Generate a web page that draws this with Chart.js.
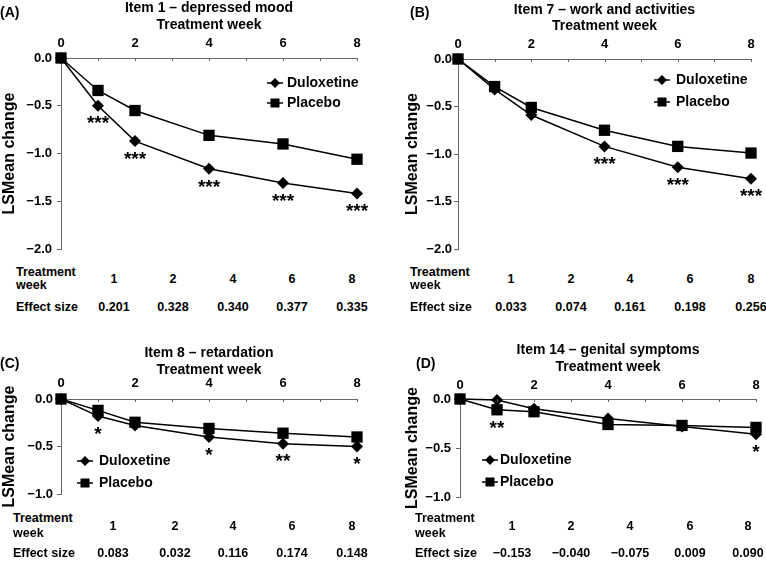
<!DOCTYPE html>
<html>
<head>
<meta charset="utf-8">
<script src="https://cdn.jsdelivr.net/npm/chart.js@4.4.1/dist/chart.umd.min.js"></script>
<style>
  body { margin: 0; background: #fff; }
  #wrap { position: relative; width: 766px; height: 563px; overflow: hidden;
          font-family: "Liberation Sans", Arial, sans-serif; font-weight: bold; color: #000; }
  canvas { position: absolute; }
  .t { position: absolute; font-family: "Liberation Sans", Arial, sans-serif; font-weight: bold;
       font-size: 12.5px; line-height: 14px; white-space: nowrap; }
  .c { transform: translate(-50%, -50%); }
  .l { transform: translateY(-50%); }
  .id { font-size: 14px; }
</style>
</head>
<body>
<div id="wrap"></div>
<script>
// weeks on the plot axis and in the table under each panel
const weeks = [0, 1, 2, 4, 6, 8];
const tableWeeks = ['1', '2', '4', '6', '8'];

// (A) Item 1
const titleA = 'Item 1 – depressed mood';
const duloxetineA = [0, -0.50, -0.87, -1.16, -1.31, -1.42];
const placeboA = [0, -0.34, -0.55, -0.81, -0.90, -1.06];
const starsA = ['', '***', '***', '***', '***', '***'];
const effectA = ['0.201', '0.328', '0.340', '0.377', '0.335'];

// (B) Item 7
const titleB = 'Item 7 – work and activities';
const duloxetineB = [0, -0.32, -0.59, -0.92, -1.14, -1.26];
const placeboB = [0, -0.29, -0.51, -0.75, -0.92, -0.99];
const starsB = ['', '', '', '***', '***', '***'];
const effectB = ['0.033', '0.074', '0.161', '0.198', '0.256'];

// (C) Item 8
const titleC = 'Item 8 – retardation';
const duloxetineC = [0, -0.18, -0.28, -0.40, -0.47, -0.50];
const placeboC = [0, -0.12, -0.245, -0.31, -0.36, -0.40];
const starsC = ['', '*', '', '*', '**', '*'];
const effectC = ['0.083', '0.032', '0.116', '0.174', '0.148'];

// (D) Item 14
const titleD = 'Item 14 – genital symptoms';
const duloxetineD = [0, -0.01, -0.10, -0.20, -0.28, -0.36];
const placeboD = [0, -0.11, -0.13, -0.26, -0.27, -0.29];
const starsD = ['', '**', '', '', '', '*'];
const effectD = ['\u22120.153', '\u22120.040', '\u22120.075', '0.009', '0.090'];

const FONT = '"Liberation Sans", Arial, sans-serif';
Chart.defaults.font.family = FONT;
Chart.defaults.font.weight = 'bold';
Chart.defaults.color = '#000';

const wrap = document.getElementById('wrap');

// layout of each panel (page pixels for the canvas, canvas pixels for the rest)
const panels = [
  { id: '(A)', title: titleA, dulox: duloxetineA, placebo: placeboA, stars: starsA, effect: effectA, yMin: -2,
    x: 0, y: 0, w: 383, h: 262, area: { left: 61, right: 357, top: 58, bottom: 249 },
    xTitlePad: 0, xTickPad: 7, yTitlePad: 0.4, yTickPad: 5,
    legend: { x: 275, ys: [83, 103], textX: 287 },
    idPos: [0, 12], labelX: 16, cols: [114, 173, 233, 292, 352], rows: [272, 285, 279, 307] },
  { id: '(B)', title: titleB, dulox: duloxetineB, placebo: placeboB, stars: starsB, effect: effectB, yMin: -2,
    x: 383, y: 0, w: 383, h: 262, area: { left: 75, right: 368, top: 59, bottom: 249 },
    xTitlePad: 1.4, xTickPad: 7, yTitlePad: 20.4, yTickPad: 2,
    legend: { x: 279, ys: [80, 102], textX: 293 },
    idPos: [410, 12], labelX: 410, cols: [511, 571, 630, 690, 751], rows: [272, 285, 279, 307] },
  { id: '(C)', title: titleC, dulox: duloxetineC, placebo: placeboC, stars: starsC, effect: effectC, yMin: -1,
    x: 0, y: 344, w: 383, h: 165, area: { left: 61, right: 357, top: 55, bottom: 150 },
    xTitlePad: 0.6, xTickPad: 8, yTitlePad: 0.4, yTickPad: 4,
    legend: { x: 85, ys: [117, 139], textX: 99 },
    idPos: [0, 363], labelX: 13, cols: [113, 175, 233, 292, 352], rows: [518, 533, 526, 553] },
  { id: '(D)', title: titleD, dulox: duloxetineD, placebo: placeboD, stars: starsD, effect: effectD, yMin: -1,
    x: 383, y: 341, w: 383, h: 170, area: { left: 77, right: 373, top: 58, bottom: 156 },
    xTitlePad: 0.6, xTickPad: 6, yTitlePad: 20.4, yTickPad: 5,
    legend: { x: 107, ys: [119, 141], textX: 117 },
    idPos: [416, 363], labelX: 415, cols: [512, 571, 630, 690, 748], rows: [518, 533, 526, 553] }
];

function fmtY(v) {
  if (v === 0) return '0.0';
  return (v < 0 ? '\u2212' : '') + Math.abs(v).toFixed(1);
}

function marker(ctx, style, x, y, r) {
  ctx.beginPath();
  if (style === 'rectRot') {
    ctx.moveTo(x, y - r); ctx.lineTo(x + r, y); ctx.lineTo(x, y + r); ctx.lineTo(x - r, y);
  } else {
    ctx.rect(x - r, y - r, 2 * r, 2 * r);
  }
  ctx.closePath();
  ctx.fill();
}

function addText(txt, x, y, cls) {
  const d = document.createElement('div');
  d.className = 't ' + cls;
  d.style.left = x + 'px';
  d.style.top = y + 'px';
  d.textContent = txt;
  wrap.appendChild(d);
}

function makePanel(p) {
  const canvas = document.createElement('canvas');
  canvas.width = p.w;
  canvas.height = p.h;
  canvas.style.left = p.x + 'px';
  canvas.style.top = p.y + 'px';
  wrap.appendChild(canvas);

  const a = p.area;

  // legend drawn inside the plot area
  const legendPlugin = {
    id: 'innerLegend',
    afterDraw(chart) {
      const ctx = chart.ctx;
      ctx.save();
      chart.data.datasets.forEach((ds, i) => {
        const y = p.legend.ys[i];
        ctx.strokeStyle = '#000';
        ctx.lineWidth = 1.5;
        ctx.beginPath();
        ctx.moveTo(p.legend.x - 8, y);
        ctx.lineTo(p.legend.x + 8, y);
        ctx.stroke();
        ctx.fillStyle = '#000';
        marker(ctx, ds.pointStyle, p.legend.x, y, ds.pointStyle === 'rectRot' ? 5 : 4.5);
        ctx.font = 'bold 14px ' + FONT;
        ctx.textBaseline = 'middle';
        ctx.textAlign = 'left';
        ctx.fillText(ds.label, p.legend.textX, y + 0.5);
      });
      ctx.restore();
    }
  };

  // significance stars under the lower point of each week
  const starsPlugin = {
    id: 'stars',
    afterDatasetsDraw(chart) {
      const { ctx, scales: { x, y } } = chart;
      ctx.save();
      ctx.font = 'bold 19px ' + FONT;
      ctx.textAlign = 'center';
      ctx.textBaseline = 'top';
      ctx.fillStyle = '#000';
      p.stars.forEach((s, i) => {
        if (!s) return;
        const low = Math.min(p.dulox[i], p.placebo[i]);
        ctx.fillText(s, x.getPixelForValue(weeks[i]), y.getPixelForValue(low) + 9);
      });
      ctx.restore();
    }
  };

  // small tick marks pointing into the plot from the top axis
  const innerTicks = {
    id: 'innerTicks',
    afterDraw(chart) {
      const { ctx, scales: { x } } = chart;
      ctx.save();
      ctx.strokeStyle = '#666';
      ctx.lineWidth = 1;
      x.ticks.forEach(t => {
        if (t.value === 0) return;
        const px = Math.round(x.getPixelForValue(t.value)) + 0.5;
        ctx.beginPath();
        ctx.moveTo(px, chart.chartArea.top);
        ctx.lineTo(px, chart.chartArea.top + 3);
        ctx.stroke();
      });
      ctx.restore();
    }
  };

  new Chart(canvas, {
    type: 'line',
    data: {
      datasets: [
        {
          label: 'Duloxetine',
          data: weeks.map((w, i) => ({ x: w, y: p.dulox[i] })),
          borderColor: '#000', backgroundColor: '#000', borderWidth: 1.5,
          pointStyle: 'rectRot', pointRadius: 6, pointBackgroundColor: '#000',
          pointBorderColor: '#000', pointBorderWidth: 0, tension: 0, clip: false, order: 1
        },
        {
          label: 'Placebo',
          data: weeks.map((w, i) => ({ x: w, y: p.placebo[i] })),
          borderColor: '#000', backgroundColor: '#000', borderWidth: 1.5,
          pointStyle: 'rect', pointRadius: 8, pointBackgroundColor: '#000',
          pointBorderColor: '#000', pointBorderWidth: 0, tension: 0, clip: false, order: 2
        }
      ]
    },
    options: {
      responsive: false,
      animation: false,
      devicePixelRatio: 1,
      layout: { padding: { left: 0, top: 0, right: p.w - a.right, bottom: p.h - a.bottom } },
      plugins: { legend: { display: false }, tooltip: { enabled: false } },
      scales: {
        x: {
          type: 'linear', position: 'top', min: 0, max: 8,
          afterFit: s => { s.height = a.top; },
          ticks: {
            stepSize: 1, autoSkip: false, maxRotation: 0, padding: p.xTickPad,
            font: { size: 13, weight: 'bold' }, color: '#000',
            callback: v => (v % 2 === 0 ? String(v) : '')
          },
          grid: { drawOnChartArea: false, drawTicks: false },
          border: { color: '#666', width: 1 },
          title: {
            display: true, text: [p.title, 'Treatment week'], color: '#000',
            font: { size: 14, weight: 'bold' }, padding: { top: p.xTitlePad, bottom: 0 }
          }
        },
        y: {
          min: p.yMin, max: 0,
          afterFit: s => { s.width = a.left; },
          ticks: {
            stepSize: 0.5, padding: p.yTickPad, color: '#000',
            font: { size: 13, weight: 'bold' }, callback: v => fmtY(v)
          },
          grid: { drawOnChartArea: false, drawTicks: true, tickLength: 4, color: '#666' },
          border: { color: '#666', width: 1 },
          title: {
            display: true, text: 'LSMean change', color: '#000',
            font: { size: 16, weight: 'bold' }, padding: { top: p.yTitlePad, bottom: 0 }
          }
        }
      }
    },
    plugins: [innerTicks, starsPlugin, legendPlugin]
  });

  // panel letter and the table under the plot
  addText(p.id, p.idPos[0], p.idPos[1], 'l id');
  addText('Treatment', p.labelX, p.rows[0], 'l');
  addText('week', p.labelX, p.rows[1], 'l');
  addText('Effect size', p.labelX, p.rows[3], 'l');
  tableWeeks.forEach((wk, i) => {
    addText(wk, p.cols[i], p.rows[2], 'c');
    addText(p.effect[i], p.cols[i], p.rows[3], 'c');
  });
}

panels.forEach(makePanel);
</script>
</body>
</html>
